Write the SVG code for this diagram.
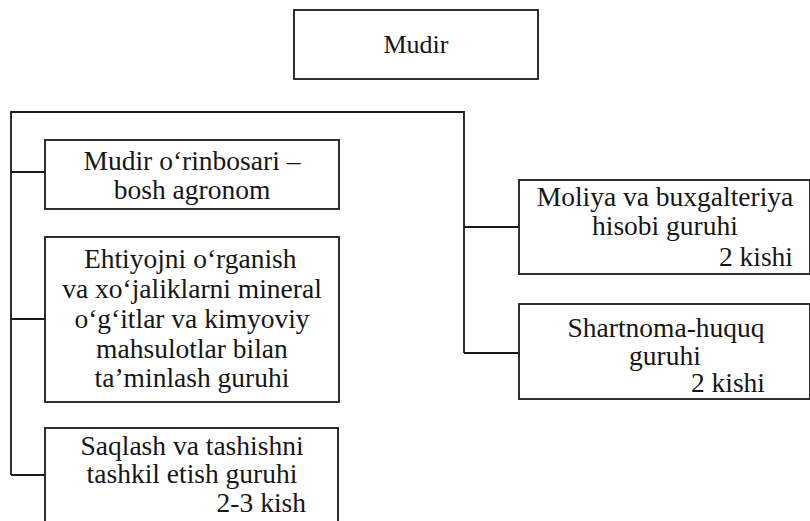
<svg xmlns="http://www.w3.org/2000/svg" width="810" height="521" viewBox="0 0 810 521">
<style>
  .box { fill: #ffffff; stroke: #1a1a1a; stroke-width: 1.8; }
  .conn { fill: none; stroke: #1a1a1a; stroke-width: 1.8; }
</style>
<rect width="810" height="521" fill="#ffffff"/>
<g id="connectors" class="conn">
  <polyline points="464,353 464,112 11,112 11,475"/>
  <line x1="11" y1="172" x2="45" y2="172"/>
  <line x1="11" y1="319" x2="45" y2="319"/>
  <line x1="11" y1="475" x2="45" y2="475"/>
  <line x1="464" y1="227" x2="519" y2="227"/>
  <line x1="464" y1="353" x2="519" y2="353"/>
</g>
<g id="mudir">
  <rect class="box" x="294" y="10" width="244" height="69"/>
  <text x="383.5" y="53" font-family="Liberation Serif" font-size="26" fill="#161616">Mudir</text>
</g>
<g id="orinbosar">
  <rect class="box" x="45" y="140" width="294" height="69"/>
  <text x="83.5" y="170" font-family="Liberation Serif" font-size="27.5" fill="#161616">Mudir o‘rinbosari –</text>
  <text x="113.7" y="199" font-family="Liberation Serif" font-size="27.5" fill="#161616">bosh agronom</text>
</g>
<g id="ehtiyoj">
  <rect class="box" x="45" y="237" width="294" height="165"/>
  <text x="83.9" y="268" font-family="Liberation Serif" font-size="27.5" fill="#161616">Ehtiyojni o‘rganish</text>
  <text x="62.2" y="298" font-family="Liberation Serif" font-size="27.5" fill="#161616">va xo‘jaliklarni mineral</text>
  <text x="74.4" y="328" font-family="Liberation Serif" font-size="27.5" fill="#161616">o‘g‘itlar va kimyoviy</text>
  <text x="96.1" y="358" font-family="Liberation Serif" font-size="27.5" fill="#161616">mahsulotlar bilan</text>
  <text x="94.6" y="387" font-family="Liberation Serif" font-size="27.5" fill="#161616">ta’minlash guruhi</text>
</g>
<g id="saqlash">
  <rect class="box" x="45" y="428" width="293" height="100"/>
  <text x="80.5" y="455" font-family="Liberation Serif" font-size="27.5" fill="#161616">Saqlash va tashishni</text>
  <text x="86.6" y="483" font-family="Liberation Serif" font-size="27.5" fill="#161616">tashkil etish guruhi</text>
  <text x="216.6" y="512" font-family="Liberation Serif" font-size="27.5" fill="#161616">2-3 kish</text>
</g>
<g id="moliya">
  <rect class="box" x="519" y="180" width="291" height="94"/>
  <text x="536.7" y="206" font-family="Liberation Serif" font-size="27.5" fill="#161616">Moliya va buxgalteriya</text>
  <text x="592" y="235" font-family="Liberation Serif" font-size="27.5" fill="#161616">hisobi guruhi</text>
  <text x="718.9" y="266" font-family="Liberation Serif" font-size="27.5" fill="#161616">2 kishi</text>
</g>
<g id="shartnoma">
  <rect class="box" x="519" y="304" width="291" height="95"/>
  <text x="567.5" y="337" font-family="Liberation Serif" font-size="27.5" fill="#161616">Shartnoma-huquq</text>
  <text x="629.1" y="365" font-family="Liberation Serif" font-size="27.5" fill="#161616">guruhi</text>
  <text x="690.9" y="392" font-family="Liberation Serif" font-size="27.5" fill="#161616">2 kishi</text>
</g>
</svg>
